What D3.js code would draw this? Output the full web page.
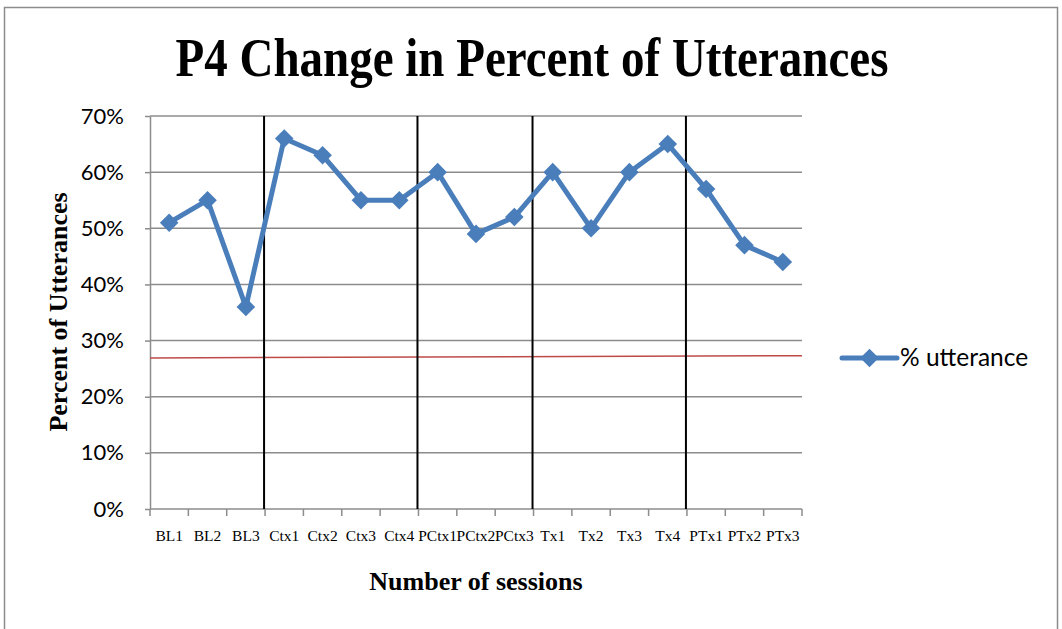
<!DOCTYPE html>
<html>
<head>
<meta charset="utf-8">
<script src="https://d3js.org/d3.v7.min.js"></script>
<style>
body { margin: 0; background: #fff; }
.grid line { stroke: #8c8c8c; stroke-width: 1.5; }
.axis path, .axis line { stroke: #8c8c8c; stroke-width: 1.5; }
.serif { font-family: "Liberation Serif", "Times New Roman", serif; }
.sans { font-family: Lato, "Noto Sans", sans-serif; }
</style>
</head>
<body>
<svg width="1062" height="629"></svg>
<script>
// data
var sessions = ["BL1","BL2","BL3","Ctx1","Ctx2","Ctx3","Ctx4","PCtx1","PCtx2","PCtx3","Tx1","Tx2","Tx3","Tx4","PTx1","PTx2","PTx3"];
var utterance = [0.51,0.55,0.36,0.66,0.63,0.55,0.55,0.60,0.49,0.52,0.60,0.50,0.60,0.65,0.57,0.47,0.44];
var yTicks = [0,0.1,0.2,0.3,0.4,0.5,0.6,0.7];
var phaseStarts = ["Ctx1","PCtx1","Tx1","PTx1"];   // hand drawn phase lines
var refLine = [0.269, 0.273];                       // red line, left and right end

var svg = d3.select("svg");
var plotL = 150, plotR = 802, plotT = 116, plotB = 509;

var x = d3.scaleBand().domain(sessions).range([plotL, plotR]).padding(0);
var y = d3.scaleLinear().domain([0, 0.7]).range([plotB, plotT]);

// outer chart border
svg.append("rect")
    .attr("x", 4.5).attr("y", 7.5)
    .attr("width", 1053).attr("height", 640)
    .attr("fill", "none").attr("stroke", "#8c8c8c").attr("stroke-width", 1.5);

// title (reference glyphs look a bit narrow and tall)
svg.append("text")
    .attr("class", "serif")
    .attr("transform", "translate(532,76) scale(0.94,1.08)")
    .attr("text-anchor", "middle")
    .attr("font-size", 50).attr("font-weight", "bold")
    .text("P4 Change in Percent of Utterances");

// gridlines
svg.append("g").attr("class", "grid")
  .selectAll("line")
  .data(yTicks.filter(function(d) { return d > 0; }))
  .enter().append("line")
    .attr("x1", plotL).attr("x2", plotR)
    .attr("y1", function(d) { return y(d); })
    .attr("y2", function(d) { return y(d); });

// y axis
var yAxis = svg.append("g").attr("class", "axis")
    .attr("transform", "translate(" + plotL + ",0)")
    .call(d3.axisLeft(y).tickValues(yTicks).tickFormat(d3.format(".0%")).tickSize(5).tickSizeOuter(0));
yAxis.selectAll("text")
    .attr("class", "sans")
    .attr("font-size", 22).attr("fill", "#000")
    .attr("x", -26);

// x axis: ticks on category boundaries
var xAxis = svg.append("g").attr("class", "axis")
    .attr("transform", "translate(0," + plotB + ")");
xAxis.append("line").attr("x1", plotL).attr("x2", plotR);
xAxis.selectAll(".tk")
    .data(sessions.concat(["end"]))
  .enter().append("line")
    .attr("x1", function(d, i) { return i < sessions.length ? x(d) : plotR; })
    .attr("x2", function(d, i) { return i < sessions.length ? x(d) : plotR; })
    .attr("y1", 0).attr("y2", 7);
xAxis.selectAll("text")
    .data(sessions)
  .enter().append("text")
    .attr("class", "serif")
    .attr("x", function(d) { return x(d) + x.bandwidth() / 2; })
    .attr("y", 32)
    .attr("text-anchor", "middle")
    .attr("font-size", 15.5)
    .text(function(d) { return d; });

// red reference line
svg.append("line")
    .attr("x1", plotL).attr("x2", plotR)
    .attr("y1", y(refLine[0])).attr("y2", y(refLine[1]))
    .attr("stroke", "#be4b48").attr("stroke-width", 1.5);

// phase change lines
svg.selectAll(".phase")
    .data(phaseStarts)
  .enter().append("line")
    .attr("x1", function(d) { return x(d) - 1; })
    .attr("x2", function(d) { return x(d) - 1; })
    .attr("y1", plotT).attr("y2", plotB)
    .attr("stroke", "#000").attr("stroke-width", 2);

// series line
var line = d3.line()
    .x(function(d, i) { return x(sessions[i]) + x.bandwidth() / 2; })
    .y(function(d) { return y(d); });

svg.append("path")
    .datum(utterance)
    .attr("d", line)
    .attr("fill", "none")
    .attr("stroke", "#4a7ebb")
    .attr("stroke-width", 5)
    .attr("stroke-linejoin", "round");

var diamond = d3.symbol().type(d3.symbolDiamond2).size(220);

svg.selectAll(".pt")
    .data(utterance)
  .enter().append("path")
    .attr("transform", function(d, i) {
      return "translate(" + (x(sessions[i]) + x.bandwidth() / 2) + "," + y(d) + ")";
    })
    .attr("d", diamond)
    .attr("fill", "#4a7ebb");

// axis titles
svg.append("text")
    .attr("class", "serif")
    .attr("transform", "translate(67,312) rotate(-90)")
    .attr("text-anchor", "middle")
    .attr("font-size", 26).attr("font-weight", "bold")
    .text("Percent of Utterances");

svg.append("text")
    .attr("class", "serif")
    .attr("x", 476).attr("y", 590)
    .attr("text-anchor", "middle")
    .attr("font-size", 26).attr("font-weight", "bold")
    .text("Number of sessions");

// legend
var lg = svg.append("g").attr("transform", "translate(842,358)");
lg.append("line")
    .attr("x1", 0).attr("x2", 55)
    .attr("stroke", "#4a7ebb").attr("stroke-width", 5).attr("stroke-linecap", "round");
lg.append("path")
    .attr("transform", "translate(27.5,0)")
    .attr("d", diamond)
    .attr("fill", "#4a7ebb");
lg.append("text")
    .attr("class", "sans")
    .attr("x", 58).attr("y", 8)
    .attr("font-size", 24.5)
    .text("% utterance");
</script>
</body>
</html>
